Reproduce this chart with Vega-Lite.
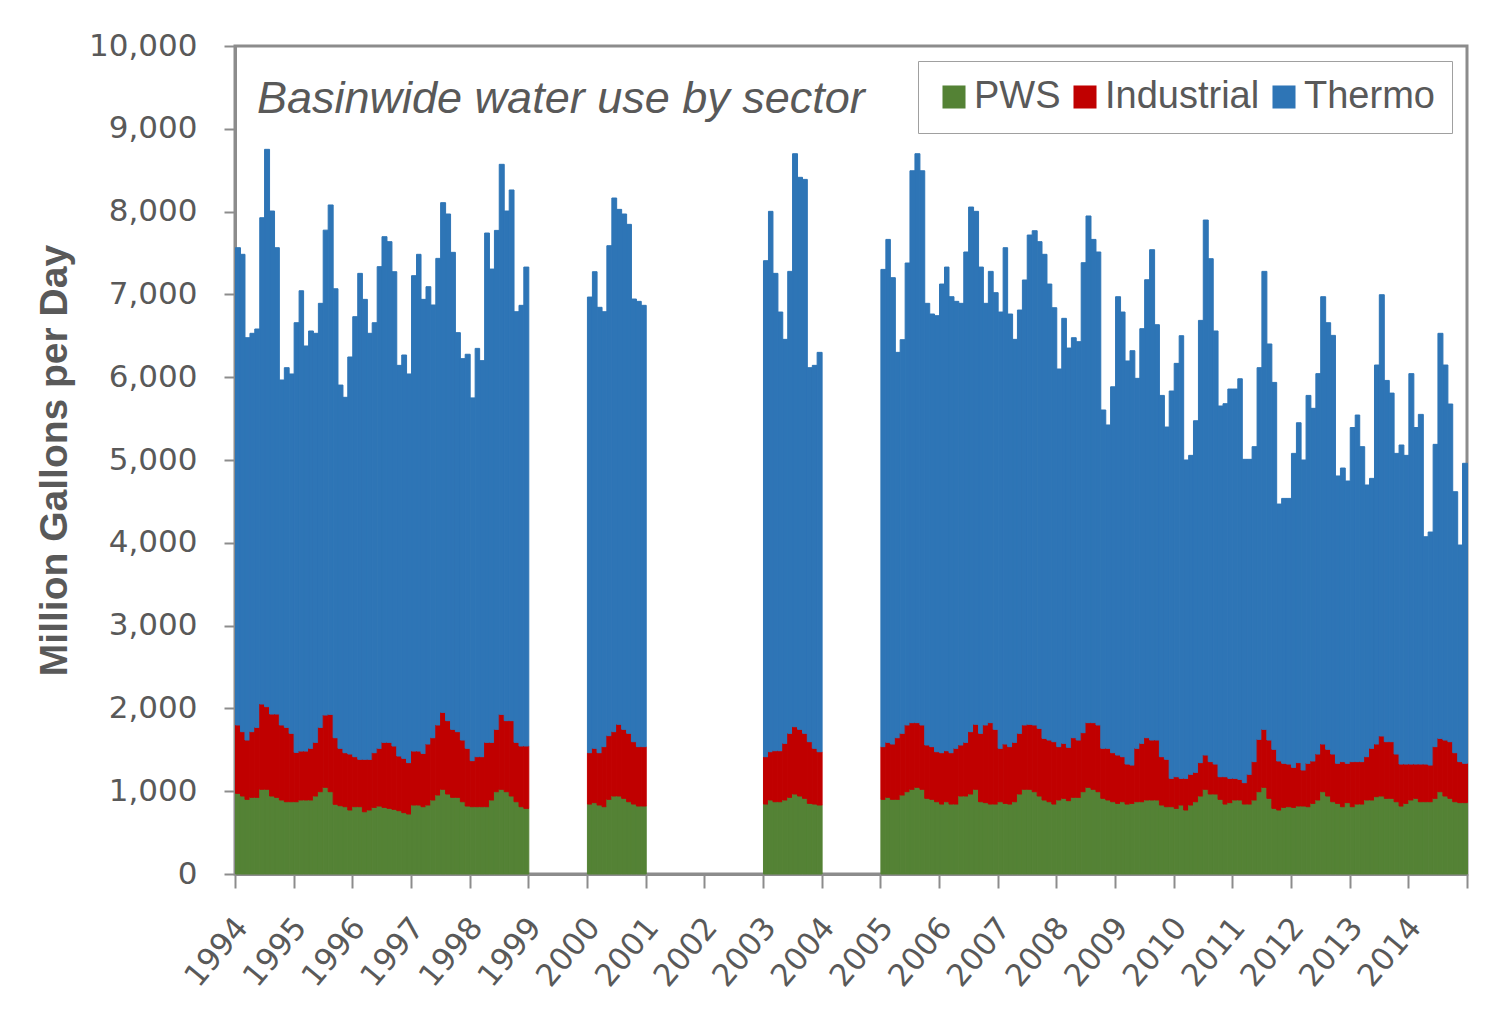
{
"$schema": "https://vega.github.io/schema/vega-lite/v6.json",
"width": 1232, "height": 828,
"autosize": {"type": "none"},
"padding": {"left": 235, "top": 46, "right": 41, "bottom": 155},
"background": "white",
"title": {"text": "Basinwide water use by sector", "anchor": "start", "frame": "group", "orient": "top", "offset": -128, "dx": 22, "baseline": "alphabetic", "font": "Liberation Sans", "fontStyle": "italic", "fontWeight": "normal", "fontSize": 45, "color": "#595959"},
"data": {"values": [
{"d":"1994-01","PWS":974,"Industrial":826,"Thermo":5764},
{"d":"1994-02","PWS":942,"Industrial":777,"Thermo":5765},
{"d":"1994-03","PWS":902,"Industrial":716,"Thermo":4859},
{"d":"1994-04","PWS":926,"Industrial":793,"Thermo":4811},
{"d":"1994-05","PWS":926,"Industrial":845,"Thermo":4811},
{"d":"1994-06","PWS":1023,"Industrial":1030,"Thermo":5873},
{"d":"1994-07","PWS":1023,"Industrial":998,"Thermo":6731},
{"d":"1994-08","PWS":942,"Industrial":990,"Thermo":6075},
{"d":"1994-09","PWS":926,"Industrial":1006,"Thermo":5632},
{"d":"1994-10","PWS":894,"Industrial":906,"Thermo":4166},
{"d":"1994-11","PWS":873,"Industrial":898,"Thermo":4344},
{"d":"1994-12","PWS":873,"Industrial":826,"Thermo":4340},
{"d":"1995-01","PWS":873,"Industrial":596,"Thermo":5189},
{"d":"1995-02","PWS":894,"Industrial":591,"Thermo":5559},
{"d":"1995-03","PWS":894,"Industrial":591,"Thermo":4892},
{"d":"1995-04","PWS":894,"Industrial":624,"Thermo":5040},
{"d":"1995-05","PWS":942,"Industrial":648,"Thermo":4940},
{"d":"1995-06","PWS":994,"Industrial":777,"Thermo":5121},
{"d":"1995-07","PWS":1047,"Industrial":873,"Thermo":5856},
{"d":"1995-08","PWS":994,"Industrial":934,"Thermo":6152},
{"d":"1995-09","PWS":842,"Industrial":804,"Thermo":5422},
{"d":"1995-10","PWS":825,"Industrial":693,"Thermo":4387},
{"d":"1995-11","PWS":813,"Industrial":652,"Thermo":4292},
{"d":"1995-12","PWS":773,"Industrial":676,"Thermo":4795},
{"d":"1996-01","PWS":813,"Industrial":604,"Thermo":5314},
{"d":"1996-02","PWS":813,"Industrial":572,"Thermo":5869},
{"d":"1996-03","PWS":752,"Industrial":633,"Thermo":5555},
{"d":"1996-04","PWS":773,"Industrial":612,"Thermo":5145},
{"d":"1996-05","PWS":805,"Industrial":660,"Thermo":5193},
{"d":"1996-06","PWS":821,"Industrial":697,"Thermo":5817},
{"d":"1996-07","PWS":805,"Industrial":785,"Thermo":6107},
{"d":"1996-08","PWS":793,"Industrial":797,"Thermo":6047},
{"d":"1996-09","PWS":781,"Industrial":765,"Thermo":5728},
{"d":"1996-10","PWS":765,"Industrial":660,"Thermo":4718},
{"d":"1996-11","PWS":741,"Industrial":656,"Thermo":4871},
{"d":"1996-12","PWS":725,"Industrial":620,"Thermo":4694},
{"d":"1997-01","PWS":833,"Industrial":652,"Thermo":5741},
{"d":"1997-02","PWS":833,"Industrial":652,"Thermo":5999},
{"d":"1997-03","PWS":813,"Industrial":644,"Thermo":5483},
{"d":"1997-04","PWS":833,"Industrial":737,"Thermo":5523},
{"d":"1997-05","PWS":894,"Industrial":752,"Thermo":5226},
{"d":"1997-06","PWS":954,"Industrial":846,"Thermo":5635},
{"d":"1997-07","PWS":1023,"Industrial":929,"Thermo":6156},
{"d":"1997-08","PWS":966,"Industrial":886,"Thermo":6119},
{"d":"1997-09","PWS":926,"Industrial":821,"Thermo":5761},
{"d":"1997-10","PWS":926,"Industrial":793,"Thermo":4819},
{"d":"1997-11","PWS":873,"Industrial":745,"Thermo":4606},
{"d":"1997-12","PWS":821,"Industrial":697,"Thermo":4759},
{"d":"1998-01","PWS":813,"Industrial":556,"Thermo":4381},
{"d":"1998-02","PWS":813,"Industrial":604,"Thermo":4931},
{"d":"1998-03","PWS":813,"Industrial":604,"Thermo":4783},
{"d":"1998-04","PWS":813,"Industrial":777,"Thermo":6151},
{"d":"1998-05","PWS":894,"Industrial":696,"Thermo":5716},
{"d":"1998-06","PWS":994,"Industrial":753,"Thermo":6026},
{"d":"1998-07","PWS":1023,"Industrial":905,"Thermo":6643},
{"d":"1998-08","PWS":994,"Industrial":858,"Thermo":6155},
{"d":"1998-09","PWS":942,"Industrial":910,"Thermo":6409},
{"d":"1998-10","PWS":873,"Industrial":717,"Thermo":5201},
{"d":"1998-11","PWS":813,"Industrial":733,"Thermo":5322},
{"d":"1998-12","PWS":793,"Industrial":753,"Thermo":5784},
{"d":"2000-01","PWS":845,"Industrial":620,"Thermo":5503},
{"d":"2000-02","PWS":862,"Industrial":656,"Thermo":5756},
{"d":"2000-03","PWS":833,"Industrial":632,"Thermo":5379},
{"d":"2000-04","PWS":813,"Industrial":725,"Thermo":5253},
{"d":"2000-05","PWS":902,"Industrial":769,"Thermo":5917},
{"d":"2000-06","PWS":942,"Industrial":777,"Thermo":6445},
{"d":"2000-07","PWS":942,"Industrial":866,"Thermo":6219},
{"d":"2000-08","PWS":914,"Industrial":833,"Thermo":6224},
{"d":"2000-09","PWS":873,"Industrial":826,"Thermo":6147},
{"d":"2000-10","PWS":845,"Industrial":753,"Thermo":5346},
{"d":"2000-11","PWS":821,"Industrial":717,"Thermo":5378},
{"d":"2000-12","PWS":821,"Industrial":717,"Thermo":5330},
{"d":"2003-01","PWS":845,"Industrial":572,"Thermo":5990},
{"d":"2003-02","PWS":894,"Industrial":583,"Thermo":6526},
{"d":"2003-03","PWS":873,"Industrial":616,"Thermo":5765},
{"d":"2003-04","PWS":873,"Industrial":616,"Thermo":5298},
{"d":"2003-05","PWS":894,"Industrial":684,"Thermo":4879},
{"d":"2003-06","PWS":926,"Industrial":773,"Thermo":5579},
{"d":"2003-07","PWS":966,"Industrial":813,"Thermo":6920},
{"d":"2003-08","PWS":942,"Industrial":805,"Thermo":6667},
{"d":"2003-09","PWS":914,"Industrial":785,"Thermo":6690},
{"d":"2003-10","PWS":853,"Industrial":745,"Thermo":4517},
{"d":"2003-11","PWS":845,"Industrial":673,"Thermo":4625},
{"d":"2003-12","PWS":833,"Industrial":644,"Thermo":4823},
{"d":"2005-01","PWS":902,"Industrial":636,"Thermo":5764},
{"d":"2005-02","PWS":926,"Industrial":664,"Thermo":6074},
{"d":"2005-03","PWS":902,"Industrial":668,"Thermo":5632},
{"d":"2005-04","PWS":902,"Industrial":744,"Thermo":4654},
{"d":"2005-05","PWS":954,"Industrial":745,"Thermo":4754},
{"d":"2005-06","PWS":994,"Industrial":806,"Thermo":5579},
{"d":"2005-07","PWS":1023,"Industrial":805,"Thermo":6665},
{"d":"2005-08","PWS":1047,"Industrial":781,"Thermo":6871},
{"d":"2005-09","PWS":1023,"Industrial":777,"Thermo":6693},
{"d":"2005-10","PWS":914,"Industrial":644,"Thermo":5334},
{"d":"2005-11","PWS":902,"Industrial":636,"Thermo":5225},
{"d":"2005-12","PWS":873,"Industrial":604,"Thermo":5266},
{"d":"2006-01","PWS":845,"Industrial":620,"Thermo":5660},
{"d":"2006-02","PWS":873,"Industrial":616,"Thermo":5841},
{"d":"2006-03","PWS":845,"Industrial":620,"Thermo":5507},
{"d":"2006-04","PWS":845,"Industrial":673,"Thermo":5398},
{"d":"2006-05","PWS":942,"Industrial":616,"Thermo":5334},
{"d":"2006-06","PWS":942,"Industrial":648,"Thermo":5922},
{"d":"2006-07","PWS":966,"Industrial":753,"Thermo":6336},
{"d":"2006-08","PWS":1023,"Industrial":785,"Thermo":6195},
{"d":"2006-09","PWS":873,"Industrial":826,"Thermo":5631},
{"d":"2006-10","PWS":862,"Industrial":938,"Thermo":5092},
{"d":"2006-11","PWS":845,"Industrial":983,"Thermo":5450},
{"d":"2006-12","PWS":845,"Industrial":902,"Thermo":5274},
{"d":"2007-01","PWS":873,"Industrial":645,"Thermo":5269},
{"d":"2007-02","PWS":853,"Industrial":717,"Thermo":5994},
{"d":"2007-03","PWS":845,"Industrial":693,"Thermo":5225},
{"d":"2007-04","PWS":873,"Industrial":717,"Thermo":4867},
{"d":"2007-05","PWS":966,"Industrial":733,"Thermo":5112},
{"d":"2007-06","PWS":1023,"Industrial":777,"Thermo":5374},
{"d":"2007-07","PWS":1023,"Industrial":785,"Thermo":5909},
{"d":"2007-08","PWS":994,"Industrial":806,"Thermo":5969},
{"d":"2007-09","PWS":942,"Industrial":817,"Thermo":5878},
{"d":"2007-10","PWS":894,"Industrial":744,"Thermo":5846},
{"d":"2007-11","PWS":873,"Industrial":745,"Thermo":5507},
{"d":"2007-12","PWS":845,"Industrial":753,"Thermo":5241},
{"d":"2008-01","PWS":894,"Industrial":644,"Thermo":4561},
{"d":"2008-02","PWS":914,"Industrial":664,"Thermo":5133},
{"d":"2008-03","PWS":886,"Industrial":644,"Thermo":4822},
{"d":"2008-04","PWS":926,"Industrial":720,"Thermo":4831},
{"d":"2008-05","PWS":926,"Industrial":692,"Thermo":4811},
{"d":"2008-06","PWS":994,"Industrial":713,"Thermo":5676},
{"d":"2008-07","PWS":1047,"Industrial":781,"Thermo":6119},
{"d":"2008-08","PWS":1023,"Industrial":805,"Thermo":5836},
{"d":"2008-09","PWS":994,"Industrial":806,"Thermo":5712},
{"d":"2008-10","PWS":914,"Industrial":604,"Thermo":4086},
{"d":"2008-11","PWS":894,"Industrial":624,"Thermo":3905},
{"d":"2008-12","PWS":873,"Industrial":592,"Thermo":4419},
{"d":"2009-01","PWS":853,"Industrial":584,"Thermo":5535},
{"d":"2009-02","PWS":873,"Industrial":544,"Thermo":5370},
{"d":"2009-03","PWS":845,"Industrial":483,"Thermo":4868},
{"d":"2009-04","PWS":853,"Industrial":463,"Thermo":5004},
{"d":"2009-05","PWS":873,"Industrial":645,"Thermo":4468},
{"d":"2009-06","PWS":873,"Industrial":705,"Thermo":5008},
{"d":"2009-07","PWS":894,"Industrial":752,"Thermo":5531},
{"d":"2009-08","PWS":894,"Industrial":724,"Thermo":5922},
{"d":"2009-09","PWS":894,"Industrial":724,"Thermo":5016},
{"d":"2009-10","PWS":833,"Industrial":584,"Thermo":4363},
{"d":"2009-11","PWS":813,"Industrial":572,"Thermo":4013},
{"d":"2009-12","PWS":813,"Industrial":342,"Thermo":4678},
{"d":"2010-01","PWS":793,"Industrial":382,"Thermo":4992},
{"d":"2010-02","PWS":833,"Industrial":322,"Thermo":5346},
{"d":"2010-03","PWS":773,"Industrial":382,"Thermo":3845},
{"d":"2010-04","PWS":833,"Industrial":371,"Thermo":3852},
{"d":"2010-05","PWS":873,"Industrial":355,"Thermo":4246},
{"d":"2010-06","PWS":942,"Industrial":403,"Thermo":5341},
{"d":"2010-07","PWS":1023,"Industrial":414,"Thermo":6461},
{"d":"2010-08","PWS":966,"Industrial":391,"Thermo":6074},
{"d":"2010-09","PWS":966,"Industrial":362,"Thermo":5230},
{"d":"2010-10","PWS":902,"Industrial":273,"Thermo":4477},
{"d":"2010-11","PWS":845,"Industrial":330,"Thermo":4505},
{"d":"2010-12","PWS":862,"Industrial":293,"Thermo":4702},
{"d":"2011-01","PWS":894,"Industrial":261,"Thermo":4702},
{"d":"2011-02","PWS":894,"Industrial":249,"Thermo":4838},
{"d":"2011-03","PWS":845,"Industrial":258,"Thermo":3905},
{"d":"2011-04","PWS":845,"Industrial":359,"Thermo":3804},
{"d":"2011-05","PWS":894,"Industrial":463,"Thermo":3804},
{"d":"2011-06","PWS":994,"Industrial":632,"Thermo":4489},
{"d":"2011-07","PWS":1047,"Industrial":700,"Thermo":5531},
{"d":"2011-08","PWS":914,"Industrial":704,"Thermo":4783},
{"d":"2011-09","PWS":793,"Industrial":713,"Thermo":4431},
{"d":"2011-10","PWS":773,"Industrial":592,"Thermo":3103},
{"d":"2011-11","PWS":805,"Industrial":532,"Thermo":3199},
{"d":"2011-12","PWS":813,"Industrial":515,"Thermo":3208},
{"d":"2012-01","PWS":805,"Industrial":483,"Thermo":3792},
{"d":"2012-02","PWS":821,"Industrial":524,"Thermo":4105},
{"d":"2012-03","PWS":821,"Industrial":435,"Thermo":3744},
{"d":"2012-04","PWS":813,"Industrial":524,"Thermo":4443},
{"d":"2012-05","PWS":853,"Industrial":512,"Thermo":4259},
{"d":"2012-06","PWS":894,"Industrial":555,"Thermo":4594},
{"d":"2012-07","PWS":994,"Industrial":576,"Thermo":5402},
{"d":"2012-08","PWS":942,"Industrial":564,"Thermo":5152},
{"d":"2012-09","PWS":873,"Industrial":576,"Thermo":5056},
{"d":"2012-10","PWS":853,"Industrial":484,"Thermo":3470},
{"d":"2012-11","PWS":813,"Industrial":544,"Thermo":3546},
{"d":"2012-12","PWS":862,"Industrial":475,"Thermo":3409},
{"d":"2013-01","PWS":813,"Industrial":544,"Thermo":4035},
{"d":"2013-02","PWS":845,"Industrial":512,"Thermo":4186},
{"d":"2013-03","PWS":845,"Industrial":512,"Thermo":3804},
{"d":"2013-04","PWS":894,"Industrial":523,"Thermo":3281},
{"d":"2013-05","PWS":894,"Industrial":624,"Thermo":3260},
{"d":"2013-06","PWS":934,"Industrial":636,"Thermo":4577},
{"d":"2013-07","PWS":942,"Industrial":725,"Thermo":5329},
{"d":"2013-08","PWS":914,"Industrial":684,"Thermo":4363},
{"d":"2013-09","PWS":914,"Industrial":684,"Thermo":4210},
{"d":"2013-10","PWS":873,"Industrial":576,"Thermo":3631},
{"d":"2013-11","PWS":821,"Industrial":507,"Thermo":3853},
{"d":"2013-12","PWS":853,"Industrial":475,"Thermo":3728},
{"d":"2014-01","PWS":894,"Industrial":434,"Thermo":4715},
{"d":"2014-02","PWS":914,"Industrial":414,"Thermo":4064},
{"d":"2014-03","PWS":873,"Industrial":455,"Thermo":4223},
{"d":"2014-04","PWS":873,"Industrial":455,"Thermo":2745},
{"d":"2014-05","PWS":873,"Industrial":443,"Thermo":2814},
{"d":"2014-06","PWS":914,"Industrial":624,"Thermo":3651},
{"d":"2014-07","PWS":994,"Industrial":644,"Thermo":4892},
{"d":"2014-08","PWS":942,"Industrial":676,"Thermo":4529},
{"d":"2014-09","PWS":914,"Industrial":684,"Thermo":4078},
{"d":"2014-10","PWS":873,"Industrial":592,"Thermo":3152},
{"d":"2014-11","PWS":862,"Industrial":495,"Thermo":2616},
{"d":"2014-12","PWS":862,"Industrial":475,"Thermo":3623}
]},
"transform": [
  {"fold": ["PWS", "Industrial", "Thermo"], "as": ["sector", "mgd"]},
  {"window": [{"op": "row_number", "as": "o"}], "groupby": ["d"]}
],
"mark": {"type": "bar", "binSpacing": 0, "strokeWidth": 1, "strokeOpacity": 1},
"encoding": {
  "x": {"field": "d", "timeUnit": "utcyearmonth", "type": "temporal", "title": null,
    "scale": {"domain": [{"year": 1994, "month": 1, "date": 1, "utc": true}, {"year": 2015, "month": 1, "date": 1, "utc": true}]},
    "axis": {"tickCount": {"interval": "year", "step": 1}, "labelExpr": "utcyear(datum.value) < 2015 ? utcFormat(datum.value, '%Y') : ''",
      "labelAngle": -50, "labelAlign": "right", "labelBaseline": "middle", "labelPadding": 34, "labelOffset": 7,
      "labelFont": "DejaVu Sans", "labelFontSize": 31, "labelColor": "#595959", "labelOverlap": false, "labelBound": false, "labelFlush": false,
      "tickSize": 14, "tickColor": "#8c8c8c", "tickWidth": 2, "domainColor": "#8c8c8c", "domainWidth": 3, "grid": false}},
  "y": {"field": "mgd", "type": "quantitative", "stack": "zero", "scale": {"domain": [0, 10000], "nice": false},
    "title": "Million Gallons per Day",
    "axis": {"values": [0,1000,2000,3000,4000,5000,6000,7000,8000,9000,10000], "format": ",.0f",
      "labelFont": "DejaVu Sans", "labelFontSize": 31, "labelColor": "#595959", "labelPadding": 27,
      "tickSize": 11, "tickColor": "#8c8c8c", "tickWidth": 2, "domainColor": "#8c8c8c", "domainWidth": 3, "grid": false,
      "titleFont": "Liberation Sans", "titleFontWeight": "bold", "titleFontSize": 39, "titleColor": "#595959",
      "titleX": -181, "titleY": 414, "titleAngle": -90, "titleAlign": "center", "titleBaseline": "middle"}},
  "color": {"field": "sector", "type": "nominal", "sort": ["PWS", "Industrial", "Thermo"],
    "scale": {"domain": ["PWS", "Industrial", "Thermo"], "range": ["#548235", "#C00000", "#2E75B6"]},
    "legend": {"title": null, "orient": "top-right", "offset": 15, "direction": "horizontal",
      "strokeColor": "#a0a0a0", "fillColor": "white", "padding": 17,
      "symbolType": "square", "symbolSize": 530, "symbolStrokeWidth": 0, "symbolOpacity": 1,
      "labelFont": "Liberation Sans", "labelFontSize": 38, "labelColor": "#595959", "labelOffset": 1, "columnPadding": 5}},
  "stroke": {"field": "sector", "type": "nominal",
    "scale": {"domain": ["PWS", "Industrial", "Thermo"], "range": ["#548235", "#C00000", "#2E75B6"]},
    "legend": null},
  "order": {"field": "o", "type": "quantitative"}
},
"config": {"view": {"stroke": "#8c8c8c", "strokeWidth": 3}}
}
